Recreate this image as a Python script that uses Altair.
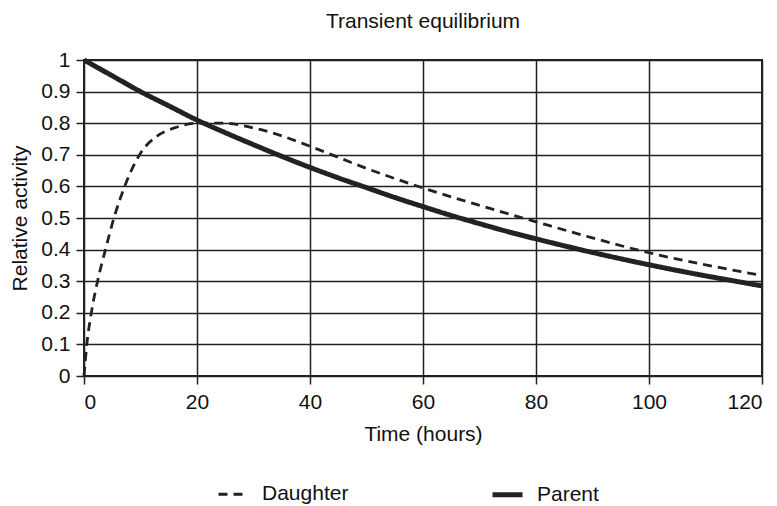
import altair as alt
import pandas as pd

# Values
parent_t = [0, 5, 10, 15, 20, 25, 30, 35, 40, 45, 50, 55, 60, 65, 70, 75, 80, 85, 90, 95, 100, 105, 110, 115, 120]
parent_v = [1.0, 0.95, 0.90, 0.855, 0.81, 0.77, 0.732, 0.695, 0.66, 0.627, 0.596, 0.565, 0.536, 0.508,
            0.482, 0.457, 0.434, 0.412, 0.391, 0.371, 0.352, 0.334, 0.317, 0.301, 0.285]

daughter_t = [0, 0.5, 1.3, 2.4, 3.8, 5.3, 7.2, 10, 13, 16, 20, 25, 30, 35, 40, 45, 50, 55, 60,
              70, 80, 90, 100, 110, 120]
daughter_v = [0.0, 0.1, 0.2, 0.3, 0.4, 0.5, 0.6, 0.705, 0.76, 0.785, 0.80, 0.80, 0.785, 0.76, 0.727,
              0.692, 0.657, 0.625, 0.595, 0.54, 0.488, 0.437, 0.39, 0.352, 0.318]

series_names = ["Daughter", "Parent"]
x_ticks = [0, 20, 40, 60, 80, 100, 120]
y_ticks = [0, 0.1, 0.2, 0.3, 0.4, 0.5, 0.6, 0.7, 0.8, 0.9, 1.0]

rows = []
for t, v in zip(parent_t, parent_v):
    rows.append({"t": t, "v": v, "series": "Parent"})
for t, v in zip(daughter_t, daughter_v):
    rows.append({"t": t, "v": v, "series": "Daughter"})
df = pd.DataFrame(rows)

FONT = "Liberation Sans"
INK = "#222222"
FS = 21

legend = alt.Legend(
    title=None, orient="none", legendX=133, legendY=417, direction="horizontal",
    symbolType="stroke", symbolSize=900, symbolStrokeColor=INK,
    labelFontSize=FS, labelFont=FONT, labelColor="#111111", labelOffset=12,
    columnPadding=133, padding=0,
)

chart = alt.Chart(df).mark_line(interpolate="monotone", color=INK).encode(
    x=alt.X("t:Q", scale=alt.Scale(domain=[0, 120], nice=False),
            axis=alt.Axis(values=x_ticks, title="Time (hours)", tickSize=8, labelPadding=7,
                          titlePadding=11)),
    y=alt.Y("v:Q", scale=alt.Scale(domain=[0, 1], nice=False),
            axis=alt.Axis(values=y_ticks, format=".1~f", title="Relative activity",
                          tickSize=8, labelPadding=6, titlePadding=10)),
    strokeDash=alt.StrokeDash("series:N", scale=alt.Scale(domain=series_names, range=[[9, 6], [1, 0]]),
                              legend=legend),
    strokeWidth=alt.StrokeWidth("series:N", scale=alt.Scale(domain=series_names, range=[2.8, 5]),
                                legend=legend),
    detail="series:N",
).properties(
    width=678, height=316,
    title=alt.Title("Transient equilibrium", fontSize=FS, font=FONT, fontWeight="normal",
                    color="#111111", offset=17, anchor="middle"),
    autosize=alt.AutoSizeParams(type="none"),
    padding={"left": 76, "top": 52, "right": 7, "bottom": 130},
).configure_axis(
    labelFont=FONT, labelFontSize=FS, labelColor="#111111",
    titleFont=FONT, titleFontSize=FS, titleFontWeight="normal", titleColor="#111111",
    grid=True, gridColor=INK, gridWidth=1.5, gridOpacity=1,
    domain=False, tickColor=INK, tickWidth=1.5,
).configure_view(
    stroke=INK, strokeWidth=2,
)

chart.save("out.html", embed_options={"renderer": "svg", "actions": False})
